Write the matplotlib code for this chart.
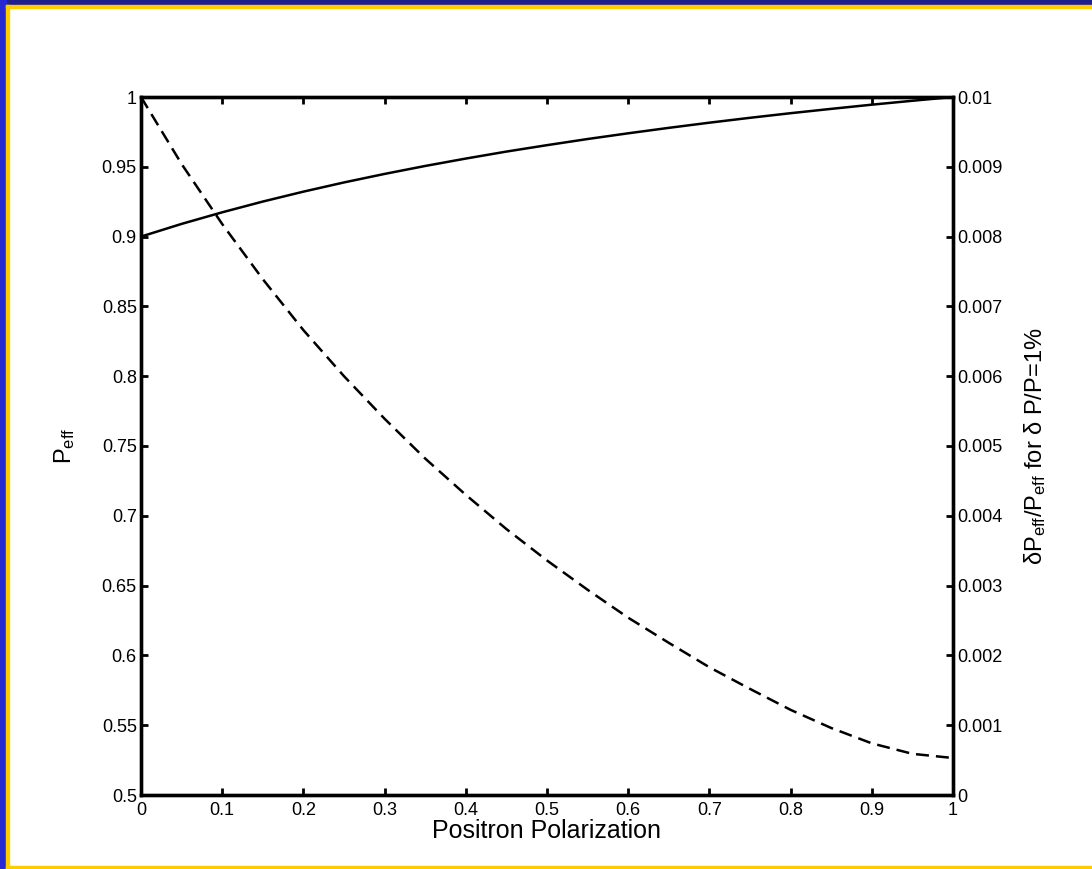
import matplotlib.pyplot as plt
from matplotlib.patches import Rectangle
from matplotlib.ticker import FuncFormatter

# values
polarization = [0.00, 0.05, 0.10, 0.15, 0.20, 0.25, 0.30, 0.35, 0.40, 0.45, 0.50,
                0.55, 0.60, 0.65, 0.70, 0.75, 0.80, 0.85, 0.90, 0.95, 1.00]
p_eff = [0.9000, 0.9091, 0.9174, 0.9251, 0.9322, 0.9388, 0.9449, 0.9506, 0.9559, 0.9609, 0.9655,
         0.9699, 0.9740, 0.9779, 0.9816, 0.9851, 0.9884, 0.9915, 0.9945, 0.9973, 1.0000]
rel_error = [0.01000, 0.00904, 0.00818, 0.00739, 0.00666, 0.00600, 0.00539, 0.00482, 0.00430,
             0.00381, 0.00336, 0.00294, 0.00254, 0.00218, 0.00183, 0.00152, 0.00122, 0.00096,
             0.00074, 0.00059, 0.00053]

left_ticks = [0.5, 0.55, 0.6, 0.65, 0.7, 0.75, 0.8, 0.85, 0.9, 0.95, 1.0]
right_ticks = [0, 0.001, 0.002, 0.003, 0.004, 0.005, 0.006, 0.007, 0.008, 0.009, 0.01]
x_ticks = [0, 0.1, 0.2, 0.3, 0.4, 0.5, 0.6, 0.7, 0.8, 0.9, 1]

plt.rcParams['font.family'] = 'Liberation Sans'
plt.rcParams['mathtext.fontset'] = 'custom'
plt.rcParams['mathtext.rm'] = 'Liberation Sans'
plt.rcParams['mathtext.it'] = 'Liberation Sans:italic'

W, H = 1092, 869
fig = plt.figure(figsize=(W / 100, H / 100), dpi=100)


def band(x0, y0, w, h, color):
    # pixel box measured from the top-left corner
    fig.patches.append(Rectangle((x0 / W, 1 - (y0 + h) / H), w / W, h / H,
                                 transform=fig.transFigure, color=color, zorder=0))


band(0, 0, W, 5, '#1e1e8c')
band(0, 0, 6, H, '#2828d2')
band(6, 5, W - 6, 3, '#ffcc00')
band(6, 5, 3, H - 5, '#ffcc00')
band(6, 866, W - 6, 3, '#ffcc00')

ax = fig.add_axes([141 / W, 1 - 795 / H, (953 - 141) / W, (795 - 97) / H])
ax2 = ax.twinx()

ax.plot(polarization, p_eff, color='black', lw=1.8)
ax2.plot(polarization, rel_error, color='black', lw=1.8, ls=(0, (5.2, 2.8)))

ax.set_xlim(0, 1)
ax.set_ylim(0.5, 1)
ax2.set_ylim(0, 0.01)
ax.set_xticks(x_ticks)
ax.set_yticks(left_ticks)
ax2.set_yticks(right_ticks)

fmt = FuncFormatter(lambda v, pos: f'{v:g}')
for a in (ax, ax2):
    a.xaxis.set_major_formatter(fmt)
    a.yaxis.set_major_formatter(fmt)
    for s in a.spines.values():
        s.set_linewidth(2.4)
ax.tick_params(axis='x', direction='in', top=True, length=5, width=2, pad=5, labelsize=13)
ax.tick_params(axis='y', direction='in', length=5, width=2, pad=3, labelsize=13)
ax2.tick_params(axis='y', direction='in', length=5, width=2, pad=3, labelsize=13)

ax.set_xlabel('Positron Polarization', fontsize=18, va='baseline')
ax.xaxis.set_label_coords(0.5, (31 - 74) / 698)
ax.set_ylabel(r'P$_{\mathrm{eff}}$', fontsize=17, va='center')
ax.yaxis.set_label_coords((65 - 141) / 812, 0.5)
ax2.set_ylabel(r'δP$_{\mathrm{eff}}$/P$_{\mathrm{eff}}$ for δ P/P=1%', fontsize=17,
               rotation=90, va='center')
ax2.yaxis.set_label_coords((1035 - 141) / 812, 0.5)

fig.savefig('out.png', dpi=100)
